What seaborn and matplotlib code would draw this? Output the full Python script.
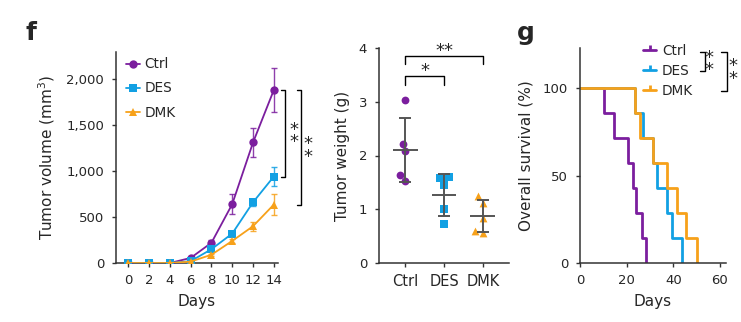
import numpy as np
import pandas as pd
import matplotlib
matplotlib.use("Agg")
import matplotlib.pyplot as plt
import seaborn as sns
from matplotlib.lines import Line2D
from matplotlib.path import Path
from matplotlib.ticker import FuncFormatter

sns.set_theme(style="ticks")
plt.rcParams["font.family"] = ["DejaVu Sans"]

# ---------------- data ----------------
groups = ["Ctrl", "DES", "DMK"]
palette = {"Ctrl": "#7B1E9E", "DES": "#12A0E3", "DMK": "#F7A11A"}
markers = {"Ctrl": "o", "DES": "s", "DMK": "^"}

days = [0, 2, 4, 6, 8, 10, 12, 14]
vol_ctrl = [0, 0, 0, 55, 220, 640, 1310, 1880]
vol_des = [0, 0, 0, 20, 150, 320, 660, 940]
vol_dmk = [0, 0, 0, 15, 90, 240, 400, 635]
sem_ctrl = [0, 0, 0, 15, 30, 110, 155, 235]
sem_des = [0, 0, 0, 8, 15, 30, 40, 105]
sem_dmk = [0, 0, 0, 5, 12, 25, 50, 115]

weight_ctrl = [3.04, 2.22, 2.08, 1.64, 1.53]
weight_des = [1.60, 1.58, 1.45, 1.00, 0.72]
weight_dmk = [1.24, 1.12, 0.84, 0.60, 0.56]

surv_pct = [100, 85.7, 71.4, 57.1, 42.9, 28.6, 14.3, 0]
time_ctrl = [0, 10.3, 14.7, 20.7, 22.9, 24.0, 26.7, 28.1]
time_des = [0, 23.7, 27.1, 31.1, 33.1, 37.1, 39.3, 43.6]
time_dmk = [0, 23.7, 25.7, 31.1, 37.4, 41.4, 45.4, 50.3]

vols = {"Ctrl": vol_ctrl, "DES": vol_des, "DMK": vol_dmk}
sems = {"Ctrl": sem_ctrl, "DES": sem_des, "DMK": sem_dmk}
weights = {"Ctrl": weight_ctrl, "DES": weight_des, "DMK": weight_dmk}
times = {"Ctrl": time_ctrl, "DES": time_des, "DMK": time_dmk}

df_vol = pd.concat([pd.DataFrame({"day": days, "vol": vols[g], "err": sems[g], "group": g}) for g in groups])
df_w = pd.concat([pd.DataFrame({"group": g, "w": weights[g]}) for g in groups])
df_s = pd.concat([pd.DataFrame({"t": times[g], "s": surv_pct, "group": g}) for g in groups])

SP = "#333333"
NUM_FS = 9.5
LAB_FS = 11
LEG_FS = 9.8
STAR_FS = 13

fig = plt.figure(figsize=(7.41, 3.22), dpi=100)
W, H = 741, 322


def add_ax(l, r, t, b):
    return fig.add_axes([l / W, 1 - b / H, (r - l) / W, (b - t) / H])


def style(ax):
    sns.despine(ax=ax)
    for s in ["left", "bottom"]:
        ax.spines[s].set_color(SP)
        ax.spines[s].set_linewidth(1.1)
    ax.tick_params(length=3, width=1.0, color=SP, labelsize=NUM_FS)
    ax.tick_params(axis="y", pad=5.5)
    ax.tick_params(axis="x", pad=5)


def star(ax, x, y, n, vertical=False):
    """Place n asterisks centred at data point (x, y)."""
    if vertical:
        ax.annotate("\n".join(["*"] * n), (x, y), xytext=(0, -1.5), textcoords="offset points",
                    ha="center", va="center", fontsize=STAR_FS, linespacing=0.6,
                    annotation_clip=False)
    else:
        ax.annotate("*" * n, (x, y), xytext=(0, -0.42 * STAR_FS), textcoords="offset points",
                    ha="center", va="baseline", fontsize=STAR_FS, annotation_clip=False)


# ---------------- panel f ----------------
ax1 = add_ax(116, 278, 52, 263)
for g in groups:
    d = df_vol[df_vol["group"] == g]
    ax1.errorbar(d["day"], d["vol"], yerr=d["err"], fmt="none", ecolor=palette[g],
                 elinewidth=1.0, capsize=2.5, capthick=1.0, alpha=0.85, zorder=1)
sns.lineplot(data=df_vol, x="day", y="vol", hue="group", style="group",
             markers=markers, dashes=False, palette=palette, ax=ax1,
             markersize=6, markeredgewidth=0, linewidth=1.3, zorder=3)
ax1.set_xlim(-1.18, 14.4)
ax1.set_ylim(0, 2293)
ax1.set_xticks(days)
ax1.set_yticks([0, 500, 1000, 1500, 2000])
ax1.yaxis.set_major_formatter(FuncFormatter(lambda v, p: f"{int(v):,}"))
ax1.set_xlabel("Days", fontsize=LAB_FS, labelpad=5)
ax1.set_ylabel("Tumor volume (mm$^3$)", fontsize=LAB_FS, labelpad=6.5)
style(ax1)
ax1.legend(title=None, frameon=False, loc="upper left", bbox_to_anchor=(0.062, 0.975),
           borderaxespad=0, borderpad=0, handlelength=1.0, handletextpad=0.35,
           labelspacing=0.75, fontsize=LEG_FS)
# significance brackets
for (x0, x1, ytop, ybot) in [(14.65, 15.05, 1880, 940), (16.2, 16.65, 1880, 635)]:
    ax1.plot([x0, x1, x1, x0], [ytop, ytop, ybot, ybot], color="black", lw=1.0, clip_on=False)
star(ax1, 15.9, 1405, 2, vertical=True)
star(ax1, 17.26, 1245, 2, vertical=True)

# ---------------- panel weight ----------------
ax2 = add_ax(379, 509, 48, 263)
for g in groups:
    sns.swarmplot(data=df_w[df_w["group"] == g], x="group", y="w", order=groups,
                  color=palette[g], marker=markers[g], size=5.6, linewidth=0, ax=ax2, zorder=3)
for i, g in enumerate(groups):
    m = np.mean(weights[g])
    sd = np.std(weights[g], ddof=1)
    ax2.errorbar([i], [m], yerr=[sd], fmt="none", ecolor="#555555", elinewidth=1.4,
                 capsize=4.5, capthick=1.4, zorder=4)
    ax2.hlines(m, i - 0.32, i + 0.32, color="#555555", lw=1.4, zorder=4)
ax2.set_xlim(-0.67, 2.67)
ax2.set_ylim(0, 4)
ax2.set_yticks([0, 1, 2, 3, 4])
ax2.set_xlabel("")
ax2.set_ylabel("Tumor weight (g)", fontsize=LAB_FS, labelpad=6.5)
style(ax2)
ax2.tick_params(axis="x", labelsize=10.5, pad=5)
ax2.plot([0, 0, 1, 1], [3.31, 3.48, 3.48, 3.31], color="black", lw=1.0, clip_on=False)
ax2.plot([0, 0, 2, 2], [3.70, 3.86, 3.86, 3.70], color="black", lw=1.0, clip_on=False)
star(ax2, 0.5, 3.62, 1)
star(ax2, 1.0, 3.99, 2)

# ---------------- panel g ----------------
ax3 = add_ax(580, 726, 48, 263)
sns.lineplot(data=df_s, x="t", y="s", hue="group", palette=palette, estimator=None,
             sort=False, drawstyle="steps-post", linewidth=2.0, ax=ax3, legend=False)
ax3.set_xlim(0, 62.6)
ax3.set_ylim(0, 123)
ax3.set_xticks([0, 20, 40, 60])
ax3.set_yticks([0, 50, 100])
ax3.set_xlabel("Days", fontsize=LAB_FS, labelpad=5)
ax3.set_ylabel("Overall survival (%)", fontsize=LAB_FS, labelpad=7)
style(ax3)
tick_marker = Path([(0, 0), (0, 1)])
handles = [Line2D([0], [0], color=palette[g], lw=2.0, marker=tick_marker, markersize=7,
                  markeredgewidth=2.0, markeredgecolor=palette[g]) for g in groups]
ax3.legend(handles, groups, frameon=False, loc="upper left", bbox_to_anchor=(0.43, 1.02),
           borderaxespad=0, borderpad=0, handlelength=1.0, handletextpad=0.4,
           labelspacing=0.45, fontsize=LEG_FS)
for (x0, x1, ytop, ybot) in [(51.4, 53.6, 120.6, 109.7), (60.4, 63.0, 120.6, 98.3)]:
    ax3.plot([x0, x1, x1, x0], [ytop, ytop, ybot, ybot], color="black", lw=1.0, clip_on=False)
star(ax3, 55.5, 115.0, 2, vertical=True)
star(ax3, 65.8, 110.1, 2, vertical=True)

# panel letters
fig.text(26 / W, 1 - 40 / H, "f", fontsize=18, fontweight="bold", ha="left", va="baseline")
fig.text(517 / W, 1 - 40 / H, "g", fontsize=18, fontweight="bold", ha="left", va="baseline")

fig.savefig("out.png", dpi=100)
